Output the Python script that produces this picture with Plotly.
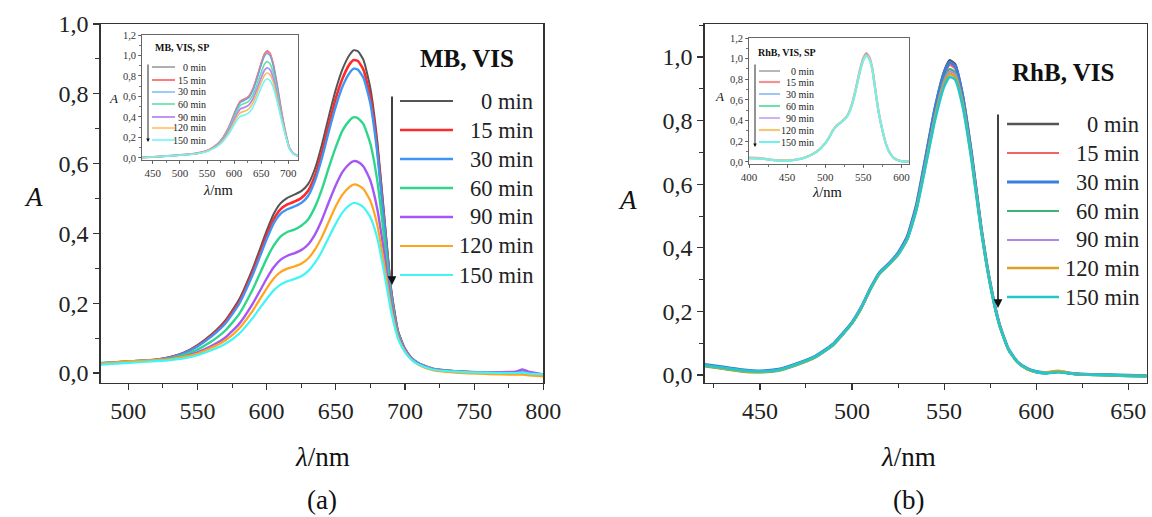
import plotly.graph_objects as go

W, H = 1152, 517
def px(x): return x / W
def py(y): return 1 - y / H

SERIF = "Liberation Serif, Times New Roman, Times, serif"
TIMES = ["0 min", "15 min", "30 min", "60 min", "90 min", "120 min", "150 min"]

# ---------------- (a) main: MB, VIS ----------------
MB_WL = [480, 500, 520, 530, 540, 550, 560, 570, 580, 590, 600, 605, 610, 615, 620, 625, 630, 635, 640, 645,
         650, 655, 660, 663, 666, 670, 675, 680, 685, 690, 695, 700, 705, 710, 720, 740, 760, 780, 785, 790, 800]
MB_0 = [.026, .032, .038, .045, .058, .080, .110, .150, .210, .300, .407, .455, .486, .502, .511, .521, .541, .586, .655, .736,
        .812, .872, .912, .925, .922, .897, .816, .665, .452, .241, .120, .070, .042, .028, .012, .004, .001, .000, .001, -.002, -.006]
MB_15 = [.027, .033, .038, .045, .057, .078, .107, .145, .203, .290, .394, .440, .469, .483, .491, .501, .522, .566, .633, .712,
         .787, .845, .885, .897, .894, .869, .791, .645, .439, .234, .117, .068, .041, .027, .012, .004, .001, .000, .001, -.002, -.006]
MB_30 = [.028, .033, .038, .044, .056, .076, .104, .141, .197, .282, .383, .428, .456, .469, .477, .487, .507, .551, .616, .693,
         .764, .822, .860, .872, .869, .846, .772, .631, .430, .231, .116, .068, .041, .027, .012, .004, .002, .001, .001, -.001, -.005]
MB_60 = [.028, .033, .037, .042, .051, .067, .090, .121, .168, .240, .327, .364, .391, .404, .411, .422, .440, .476, .527, .589,
         .647, .696, .724, .733, .730, .713, .657, .551, .388, .216, .112, .067, .041, .027, .012, .004, .002, .001, .002, -.001, -.005]
MB_90 = [.027, .032, .036, .040, .047, .059, .077, .101, .140, .199, .270, .302, .324, .336, .343, .352, .368, .397, .439, .490,
         .538, .577, .600, .607, .605, .592, .551, .470, .343, .201, .108, .066, .040, .026, .011, .003, .002, .004, .010, .003, -.004]
MB_120 = [.027, .033, .037, .040, .046, .056, .072, .093, .127, .179, .242, .270, .289, .299, .305, .313, .328, .354, .390, .434,
          .478, .512, .533, .540, .538, .527, .493, .424, .312, .188, .103, .062, .037, .023, .008, .000, -.003, -.005, -.005, -.007, -.010]
MB_150 = [.024, .029, .034, .037, .042, .051, .065, .083, .112, .158, .212, .236, .253, .263, .269, .277, .292, .316, .349, .389,
          .428, .461, .481, .487, .485, .475, .446, .386, .287, .176, .098, .060, .037, .024, .010, .003, .001, .000, .001, -.002, -.004]

# ---------------- (a) inset: MB, VIS, SP ----------------
MBS_WL = [430, 450, 475, 500, 525, 540, 550, 560, 570, 580, 590, 600, 605, 612, 620, 627, 635, 642, 650, 656,
          661, 666, 672, 680, 688, 695, 702, 710, 720]
MBS_0 = [.005, .010, .018, .028, .040, .055, .072, .100, .140, .205, .300, .430, .495, .560, .580, .603, .680, .790, .930, 1.020,
         1.050, 1.030, .930, .700, .440, .250, .100, .040, .015]
MBS_15 = [.005, .010, .018, .028, .040, .055, .071, .099, .138, .202, .296, .425, .489, .553, .573, .596, .673, .782, .920, 1.010,
          1.040, 1.020, .921, .694, .436, .248, .100, .040, .015]
MBS_30 = [.005, .010, .018, .028, .040, .054, .070, .098, .136, .198, .290, .418, .481, .543, .563, .586, .660, .768, .903, .990,
          1.020, 1.000, .905, .683, .430, .245, .099, .040, .015]
MBS_60 = [.005, .010, .018, .028, .039, .053, .069, .096, .133, .193, .280, .400, .458, .515, .533, .553, .617, .713, .836, .914,
          .940, .922, .838, .638, .408, .237, .097, .039, .015]
MBS_90 = [.005, .010, .018, .028, .039, .052, .068, .093, .128, .183, .264, .375, .428, .480, .496, .516, .578, .668, .783, .856,
          .880, .863, .786, .602, .390, .230, .095, .039, .015]
MBS_120 = [.005, .010, .018, .028, .038, .051, .066, .090, .122, .173, .248, .350, .398, .443, .458, .478, .537, .625, .737, .807,
           .830, .815, .745, .572, .375, .224, .094, .038, .015]
MBS_150 = [.005, .010, .018, .027, .038, .050, .064, .086, .116, .163, .232, .325, .368, .407, .420, .440, .496, .580, .685, .750,
           .770, .757, .694, .538, .358, .217, .092, .038, .015]

# ---------------- (b) main: RhB, VIS ----------------
RB_WL = [420, 430, 440, 450, 460, 470, 480, 490, 500, 505, 510, 515, 520, 525, 530, 535, 540, 545, 550, 553,
         556, 560, 565, 570, 575, 580, 585, 590, 595, 600, 605, 612, 620, 630, 640, 650, 660]
RB_0 = [.032, .024, .016, .012, .017, .035, .058, .098, .165, .212, .272, .322, .350, .383, .435, .535, .685, .840, .955, .990,
        .978, .885, .695, .470, .290, .160, .080, .040, .020, .010, .006, .010, .004, .001, .000, -.002, -.003]
RB_15 = [.031, .023, .015, .011, .016, .034, .057, .097, .164, .211, .271, .321, .349, .381, .432, .530, .678, .830, .942, .975,
         .964, .873, .687, .466, .288, .159, .080, .040, .020, .010, .007, .011, .004, .001, .000, -.002, -.003]
RB_30 = [.033, .025, .017, .013, .018, .036, .059, .099, .166, .213, .273, .323, .351, .384, .436, .536, .686, .838, .950, .983,
         .972, .880, .692, .469, .290, .161, .081, .041, .021, .011, .007, .010, .005, .002, .001, -.001, -.002]
RB_60 = [.027, .019, .011, .008, .013, .031, .055, .095, .162, .209, .269, .319, .347, .379, .428, .524, .670, .818, .930, .962,
         .952, .864, .681, .463, .286, .158, .079, .039, .018, .008, .005, .012, .003, .000, -.002, -.004, -.005]
RB_90 = [.030, .022, .014, .010, .015, .033, .056, .096, .163, .210, .270, .320, .348, .380, .429, .526, .668, .814, .924, .955,
         .946, .860, .679, .462, .286, .158, .079, .040, .019, .009, .006, .010, .004, .001, .000, -.002, -.003]
RB_120 = [.030, .021, .013, .010, .015, .033, .056, .096, .163, .210, .270, .319, .347, .378, .427, .522, .663, .807, .916, .947,
          .938, .853, .675, .460, .285, .157, .079, .039, .019, .009, .008, .013, .005, .001, .000, -.002, -.003]
RB_150 = [.031, .023, .015, .011, .016, .034, .057, .097, .164, .211, .271, .320, .348, .379, .427, .520, .658, .800, .907, .937,
          .929, .846, .671, .458, .284, .157, .079, .040, .020, .010, .006, .009, .004, .001, .000, -.002, -.003]

# ---------------- (b) inset: RhB, VIS, SP ----------------
RBS_WL = [400, 410, 420, 430, 440, 450, 460, 470, 480, 490, 500, 505, 510, 515, 520, 525, 530, 535, 540, 545,
          550, 554, 558, 562, 566, 570, 575, 580, 585, 590, 595, 600, 610]
RBS_0 = [.038, .036, .030, .020, .014, .013, .020, .035, .062, .105, .180, .235, .305, .350, .380, .412, .460, .555, .700, .870,
         1.000, 1.050, 1.010, .900, .690, .490, .310, .170, .085, .040, .018, .008, .003]
RBS_15 = [.042, .040, .032, .021, .015, .014, .021, .036, .063, .106, .181, .236, .306, .351, .381, .413, .462, .558, .705, .876,
          1.006, 1.055, 1.015, .904, .693, .492, .311, .171, .086, .040, .018, .008, .003]
RBS_30 = [.037, .035, .029, .020, .014, .013, .020, .035, .062, .105, .180, .235, .304, .349, .379, .411, .459, .553, .697, .866,
          .995, 1.045, 1.005, .896, .687, .488, .309, .170, .085, .040, .018, .008, .003]
RBS_60 = [.036, .034, .028, .019, .013, .012, .019, .034, .061, .104, .179, .234, .304, .349, .379, .410, .458, .551, .694, .862,
          .991, 1.040, 1.001, .893, .685, .487, .308, .169, .084, .039, .017, .007, .002]
RBS_90 = [.037, .035, .029, .020, .014, .013, .020, .035, .062, .105, .180, .235, .305, .350, .380, .411, .459, .553, .697, .866,
          .995, 1.045, 1.005, .897, .688, .489, .309, .170, .085, .040, .018, .008, .003]
RBS_120 = [.037, .035, .029, .020, .014, .013, .020, .035, .062, .105, .180, .234, .303, .348, .378, .409, .456, .549, .691, .858,
           .986, 1.035, .997, .890, .683, .486, .308, .169, .084, .039, .017, .007, .002]
RBS_150 = [.036, .034, .028, .019, .013, .012, .019, .034, .061, .104, .179, .233, .302, .347, .377, .408, .454, .546, .687, .853,
           .980, 1.030, .992, .886, .681, .485, .307, .169, .084, .039, .017, .007, .002]

Y_TICKS_MAIN = [0.0, 0.2, 0.4, 0.6, 0.8, 1.0]
Y_TICKS_INSET = [0.0, 0.2, 0.4, 0.6, 0.8, 1.0, 1.2]
X_TICKS_A = [500, 550, 600, 650, 700, 750, 800]
X_TICKS_A_IN = [450, 500, 550, 600, 650, 700]
X_TICKS_B = [450, 500, 550, 600, 650]
X_TICKS_B_IN = [400, 450, 500, 550, 600]

COL_A = ["#555555", "#ff2a2a", "#3f95f5", "#2ed68c", "#a656f5", "#ffa51c", "#3ff5f5"]
COL_A_IN = ["#606060", "#ff7a7a", "#5aa6f5", "#62e0a6", "#bb86f5", "#ffb64a", "#70f5f5"]
COL_B = ["#555555", "#f06464", "#3a7fe0", "#3cb36e", "#b685ea", "#d9a21f", "#22c7c7"]
COL_B_IN = ["#707070", "#f59090", "#5a9ff0", "#6ee0a8", "#b080f0", "#f3c878", "#70f0f0"]
W_A = [2.0, 2.6, 2.4, 2.4, 2.4, 2.2, 2.2]
W_A_IN = [1.0, 2.0, 1.2, 1.6, 1.8, 1.4, 1.6]
W_B = [2.4, 2.2, 3.0, 2.2, 2.2, 2.6, 2.6]
W_B_IN = [1.0, 2.2, 1.2, 2.0, 1.2, 2.2, 2.0]

fig = go.Figure()

def add_group(wl, series, colors, widths, xa, ya, smooth):
    for name, vals, c, w in zip(TIMES, series, colors, widths):
        fig.add_trace(go.Scatter(x=wl, y=vals, mode="lines", name=name, showlegend=False,
                                 line=dict(color=c, width=w, shape="spline", smoothing=smooth),
                                 xaxis=xa, yaxis=ya, hoverinfo="skip"))

add_group(MB_WL, [MB_0, MB_15, MB_30, MB_60, MB_90, MB_120, MB_150], COL_A, W_A, "x", "y", 0.5)
add_group(MBS_WL, [MBS_0, MBS_15, MBS_30, MBS_60, MBS_90, MBS_120, MBS_150], COL_A_IN, W_A_IN, "x2", "y2", 0.4)
add_group(RB_WL, [RB_0, RB_15, RB_30, RB_60, RB_90, RB_120, RB_150], COL_B, W_B, "x3", "y3", 0.5)
add_group(RBS_WL, [RBS_0, RBS_15, RBS_30, RBS_60, RBS_90, RBS_120, RBS_150], COL_B_IN, W_B_IN, "x4", "y4", 0.4)

AX = "#333333"

def main_x(domain, rng, ticks, anchor):
    return dict(domain=domain, range=rng, anchor=anchor, tickvals=ticks, ticks="outside", ticklen=6,
                tickwidth=1.2, tickcolor=AX, showline=True, linecolor=AX, linewidth=1.3, mirror=True,
                showgrid=False, zeroline=False, tickfont=dict(family=SERIF, size=24, color="#222"),
                minor=dict(ticks="outside", ticklen=4, dtick=25, tickcolor=AX, tickwidth=1, showgrid=False))

def main_y(domain, rng, anchor):
    return dict(domain=domain, range=rng, anchor=anchor, tickvals=Y_TICKS_MAIN, tickformat=".1f",
                ticks="outside", ticklen=6, tickwidth=1.2, tickcolor=AX, showline=True, linecolor=AX,
                linewidth=1.3, mirror=True, showgrid=False, zeroline=False,
                tickfont=dict(family=SERIF, size=24, color="#222"),
                minor=dict(ticks="outside", ticklen=4, dtick=0.1, tickcolor=AX, tickwidth=1, showgrid=False))

def inset_x(domain, rng, ticks, anchor):
    return dict(domain=domain, range=rng, anchor=anchor, tickvals=ticks, ticks="outside", ticklen=3,
                tickwidth=0.8, tickcolor="#555", showline=True, linecolor="#555", linewidth=0.9, mirror=True,
                showgrid=False, zeroline=False, tickfont=dict(family=SERIF, size=11, color="#333"),
                minor=dict(ticks="outside", ticklen=2, dtick=25, tickcolor="#555", showgrid=False))

def inset_y(domain, rng, anchor):
    return dict(domain=domain, range=rng, anchor=anchor, tickvals=Y_TICKS_INSET, tickformat=".1f",
                ticks="outside", ticklen=3, tickwidth=0.8, tickcolor="#555", showline=True, linecolor="#555",
                linewidth=0.9, mirror=True, showgrid=False, zeroline=False,
                tickfont=dict(family=SERIF, size=10.5, color="#333"),
                minor=dict(ticks="outside", ticklen=2, dtick=0.1, tickcolor="#555", showgrid=False))

fig.update_layout(
    width=W, height=H, margin=dict(l=0, r=0, t=0, b=0, autoexpand=False),
    paper_bgcolor="white", plot_bgcolor="white", separators=", ", showlegend=False,
    xaxis=main_x([px(100.6), px(543.3)], [480, 800], X_TICKS_A, "y"),
    yaxis=main_y([py(383), py(24)], [-0.0287, 1.0], "x"),
    xaxis2=inset_x([px(142), px(298)], [430, 718], X_TICKS_A_IN, "y2"),
    yaxis2=inset_y([py(160), py(35)], [-0.02, 1.2], "x2"),
    xaxis3=main_x([px(704.7), px(1146.7)], [420, 660], X_TICKS_B, "y3"),
    yaxis3=main_y([py(383), py(24)], [-0.025, 1.104], "x3"),
    xaxis4=inset_x([px(749), px(909)], [400, 610], X_TICKS_B_IN, "y4"),
    yaxis4=inset_y([py(164), py(38)], [-0.02, 1.2], "x4"),
)

ann = []
shapes = []

def text(x, y, t, size, anchor="center", color="#111"):
    ann.append(dict(x=px(x), y=py(y), xref="paper", yref="paper", text=t, showarrow=False,
                    xanchor=anchor, yanchor="middle", font=dict(family=SERIF, size=size, color=color)))

def arrow(x, y0, y1, width, head_size):
    ann.append(dict(x=px(x), y=py(y1), xref="paper", yref="paper", text="", showarrow=True,
                    ax=0, ay=-(y1 - y0), arrowhead=2, arrowsize=head_size, arrowwidth=width,
                    arrowcolor="#111"))

text(33, 197, "<i>A</i>", 27)
text(627, 200, "<i>A</i>", 27)
text(322, 457, "<i>λ</i>/nm", 27)
text(908, 457, "<i>λ</i>/nm", 27)
text(322, 500, "(a)", 27)
text(908, 500, "(b)", 27)

def legend(title_xy, title, line_x0, line_x1, text_right, ys, colors, widths, tsize, title_size):
    text(title_xy[0], title_xy[1], "<b>" + title + "</b>", title_size)
    for lbl, yy, c, w in zip(TIMES, ys, colors, widths):
        shapes.append(dict(type="line", xref="paper", yref="paper", x0=px(line_x0), x1=px(line_x1),
                           y0=py(yy), y1=py(yy), line=dict(color=c, width=w)))
        text(text_right, yy, lbl, tsize, anchor="right", color="#222")

legend((467, 58), "MB, VIS", 400, 453, 535, [101, 130, 159, 188, 217, 246, 275], COL_A, W_A, 22.5, 25)
arrow(392, 95, 285, 1.6, 1.1)
legend((1063, 73), "RhB, VIS", 1007, 1059, 1141, [124, 153, 182, 211, 240, 268, 297], COL_B, W_B, 22.5, 25)
arrow(998, 113, 308, 1.6, 1.1)

legend((182, 48), "MB, VIS, SP", 152, 175, 208, [67, 80, 92, 104, 117, 128, 140], COL_A_IN, W_A_IN, 10, 10)
arrow(148, 63, 142, 0.9, 0.8)
legend((787, 52), "RhB, VIS, SP", 759, 780, 816, [71, 82, 94, 106, 118, 130, 142], COL_B_IN, W_B_IN, 10, 10)
arrow(755, 63, 147, 0.9, 0.8)

text(113, 98, "<i>A</i>", 13)
text(218, 190, "<i>λ</i>/nm", 14.5)
text(719, 97, "<i>A</i>", 13)
text(827, 192, "<i>λ</i>/nm", 14.5)

fig.update_layout(annotations=ann, shapes=shapes)
fig.write_html(
    "out.html",
    config={"displayModeBar": False, "staticPlot": True},
    post_script="document.documentElement.style.margin='0px';document.body.style.margin='0px';"
                "document.documentElement.style.overflow='hidden';document.body.style.overflow='hidden';",
)
